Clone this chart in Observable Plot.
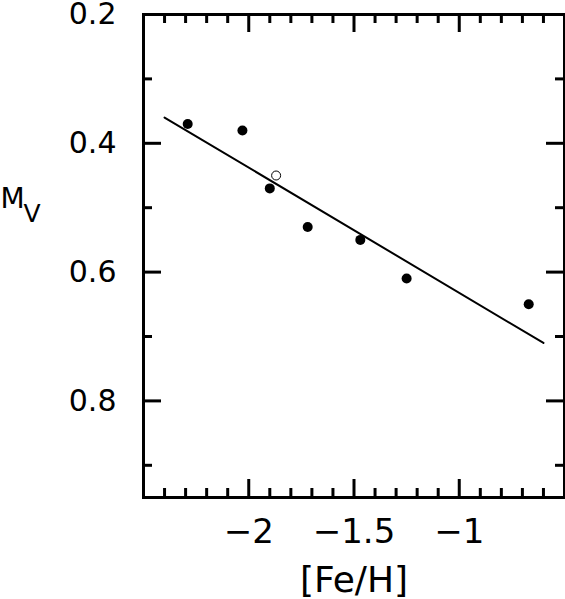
<!DOCTYPE html>
<html>
<head>
<meta charset="utf-8">
<script src="https://cdn.jsdelivr.net/npm/d3@7"></script>
<script src="https://cdn.jsdelivr.net/npm/@observablehq/plot@0.6"></script>
<style>
  html, body { margin: 0; padding: 0; background: #fff; }
</style>
</head>
<body>
<div id="chart"></div>
<script>
// Filled points: [Fe/H] and M_V
const feh = [-2.29, -2.03, -1.90, -1.72, -1.47, -1.25, -0.67];
const mv  = [0.37, 0.38, 0.47, 0.53, 0.55, 0.61, 0.65];
// Open point
const fehOpen = [-1.87];
const mvOpen  = [0.45];
// Fitted line endpoints
const lineFeh = [-2.40, -0.60];
const lineMv  = [0.36, 0.71];
// Ticks
const xMajorTicks = [-2, -1.5, -1];
const xTickLabels = ["\u22122", "\u22121.5", "\u22121"];
const xMinorTicks = [-2.4, -2.3, -2.2, -2.1, -1.9, -1.8, -1.7, -1.6, -1.4, -1.3, -1.2, -1.1, -0.9, -0.8, -0.7, -0.6];
const yMajorTicks = [0.2, 0.4, 0.6, 0.8];
const yTickLabels = ["0.2", "0.4", "0.6", "0.8"];
const yMinorTicks = [0.3, 0.5, 0.7, 0.9];
const xLabel = "[Fe/H]";
const yLabelMain = "M";
const yLabelSub = "V";

const W = 565, H = 599;
const mL = 143, mR = 1, mT = 14, mB = 102;
const fw = W - mL - mR, fh = H - mT - mB;
const majorLen = 18, minorLen = 9;

const points = feh.map((x, i) => ({x, y: mv[i]}));
const openPts = fehOpen.map((x, i) => ({x, y: mvOpen[i]}));
const linePts = lineFeh.map((x, i) => ({x, y: lineMv[i]}));

const plot = Plot.plot({
  width: W, height: H,
  marginLeft: mL, marginRight: mR, marginTop: mT, marginBottom: mB,
  style: {fontFamily: "DejaVu Sans", color: "#000", background: "#fff", overflow: "visible"},
  x: {domain: [-2.5, -0.5]},
  y: {domain: [0.2, 0.95], reverse: true},
  marks: [
    // inward ticks: left, right, top, bottom
    Plot.tickY(yMajorTicks, {y: d => d, insetRight: fw - majorLen, strokeWidth: 3}),
    Plot.tickY(yMinorTicks, {y: d => d, insetRight: fw - minorLen, strokeWidth: 3}),
    Plot.tickY(yMajorTicks, {y: d => d, insetLeft: fw - majorLen, strokeWidth: 3}),
    Plot.tickY(yMinorTicks, {y: d => d, insetLeft: fw - minorLen, strokeWidth: 3}),
    Plot.tickX(xMajorTicks, {x: d => d, insetBottom: fh - majorLen, strokeWidth: 3}),
    Plot.tickX(xMinorTicks, {x: d => d, insetBottom: fh - minorLen, strokeWidth: 3}),
    Plot.tickX(xMajorTicks, {x: d => d, insetTop: fh - majorLen, strokeWidth: 3}),
    Plot.tickX(xMinorTicks, {x: d => d, insetTop: fh - minorLen, strokeWidth: 3}),
    Plot.frame({stroke: "#000", strokeWidth: 3}),
    Plot.axisY(yMajorTicks, {tickSize: 0, tickPadding: 27, fontSize: 30, label: null,
      tickFormat: d => yTickLabels[yMajorTicks.indexOf(d)]}),
    Plot.axisX(xMajorTicks, {tickSize: 0, tickPadding: 21, fontSize: 34, label: null,
      tickFormat: d => xTickLabels[xMajorTicks.indexOf(d)]}),
    Plot.line(linePts, {x: "x", y: "y", stroke: "#000", strokeWidth: 2}),
    Plot.dot(points, {x: "x", y: "y", r: 5, fill: "#000", stroke: "none"}),
    Plot.dot(openPts, {x: "x", y: "y", r: 4.5, fill: "#fff", stroke: "#000", strokeWidth: 1}),
    Plot.text([xLabel], {frameAnchor: "bottom", lineAnchor: "bottom", dy: 94, fontSize: 36}),
    Plot.text([yLabelMain], {frameAnchor: "left", textAnchor: "start", lineAnchor: "bottom", dx: -mL, dy: -48, fontSize: 28}),
    Plot.text([yLabelSub], {frameAnchor: "left", textAnchor: "start", lineAnchor: "bottom", dx: -mL + 23, dy: -34, fontSize: 25})
  ]
});
document.getElementById("chart").appendChild(plot);
</script>
</body>
</html>
